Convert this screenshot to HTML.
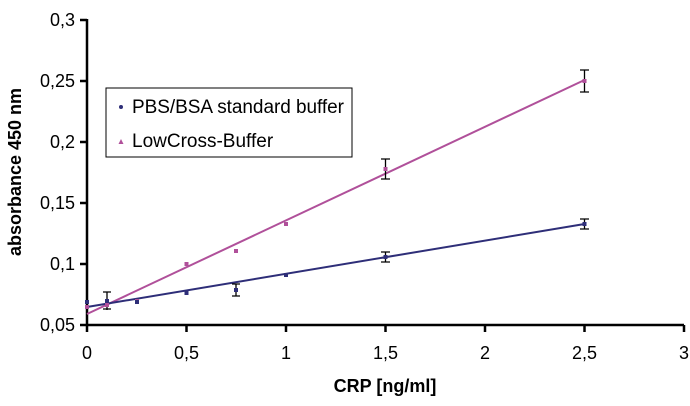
<!DOCTYPE html><html><head><style>body{margin:0;background:#fff}svg{display:block;font-family:"Liberation Sans",Arial,sans-serif}</style></head><body>
<svg width="690" height="406" viewBox="0 0 690 406">
<g stroke="#000" stroke-width="2.5" fill="none">
<line x1="87" y1="19" x2="87" y2="326"/><line x1="86" y1="325" x2="684" y2="325"/>
<path d="M80 20H87M80 81H87M80 142H87M80 203H87M80 264H87M80 325H87"/>
<path d="M87 325V332M186.5 325V332M286 325V332M385.5 325V332M485 325V332M584.5 325V332M684 325V332"/>
</g>
<g font-size="18" text-anchor="end"><text x="75" y="26">0,3</text><text x="75" y="87">0,25</text><text x="75" y="148">0,2</text><text x="75" y="209">0,15</text><text x="75" y="270">0,1</text><text x="75" y="331">0,05</text></g>
<g font-size="18" text-anchor="middle"><text x="87" y="359">0</text><text x="186.5" y="359">0,5</text><text x="286" y="359">1</text><text x="385.5" y="359">1,5</text><text x="485" y="359">2</text><text x="584.5" y="359">2,5</text><text x="684" y="359">3</text></g>
<text x="385" y="392" font-size="18" font-weight="bold" text-anchor="middle">CRP [ng/ml]</text>
<text transform="translate(21,172) rotate(-90)" font-size="18" font-weight="bold" text-anchor="middle">absorbance 450 nm</text>
<line x1="87" y1="314" x2="584.5" y2="80" stroke="#b0509a" stroke-width="2"/>
<line x1="87" y1="307" x2="584.5" y2="224" stroke="#2e2e78" stroke-width="2"/>
<g stroke="#000" stroke-width="1.3">
<path d="M584.5 70V92M580 70H589M580 92H589M385.5 159V179M381 159H390M381 179H390"/>
<path d="M584.5 219V229M580 219H589M580 229H589M385.5 252V262M381 252H390M381 262H390M236 284V296M232 284H240M232 296H240M107 292V309M103 292H111M103 309H111M107 304V310"/>
</g>
<g fill="#b0509a"><rect x="85" y="305" width="4" height="4"/><rect x="105" y="303" width="4" height="4"/><rect x="135" y="299" width="4" height="4"/><rect x="184.5" y="262" width="4" height="4"/><rect x="234" y="249" width="4" height="4"/><rect x="284" y="222" width="4" height="4"/><rect x="383.5" y="167" width="4" height="4"/><rect x="582.5" y="79" width="4" height="4"/></g>
<g fill="#2e2e78"><rect x="85" y="300" width="4" height="4"/><rect x="105" y="299" width="4" height="4"/><rect x="135" y="300" width="4" height="4"/><rect x="184.5" y="291" width="4" height="4"/><rect x="234" y="288" width="4" height="4"/><rect x="284" y="273" width="4" height="4"/><rect x="383.5" y="255" width="4" height="4"/><rect x="582.5" y="222" width="4" height="4"/></g>
<rect x="106" y="88" width="246" height="69" fill="#fff" stroke="#000" stroke-width="1"/>
<circle cx="121" cy="107" r="2" fill="#2e2e78"/><path d="M118.5 144L121 139L123.5 144Z" fill="#b0509a"/>
<g font-size="19"><text x="132" y="113" textLength="212">PBS/BSA standard buffer</text><text x="132" y="147">LowCross-Buffer</text></g>
</svg></body></html>
